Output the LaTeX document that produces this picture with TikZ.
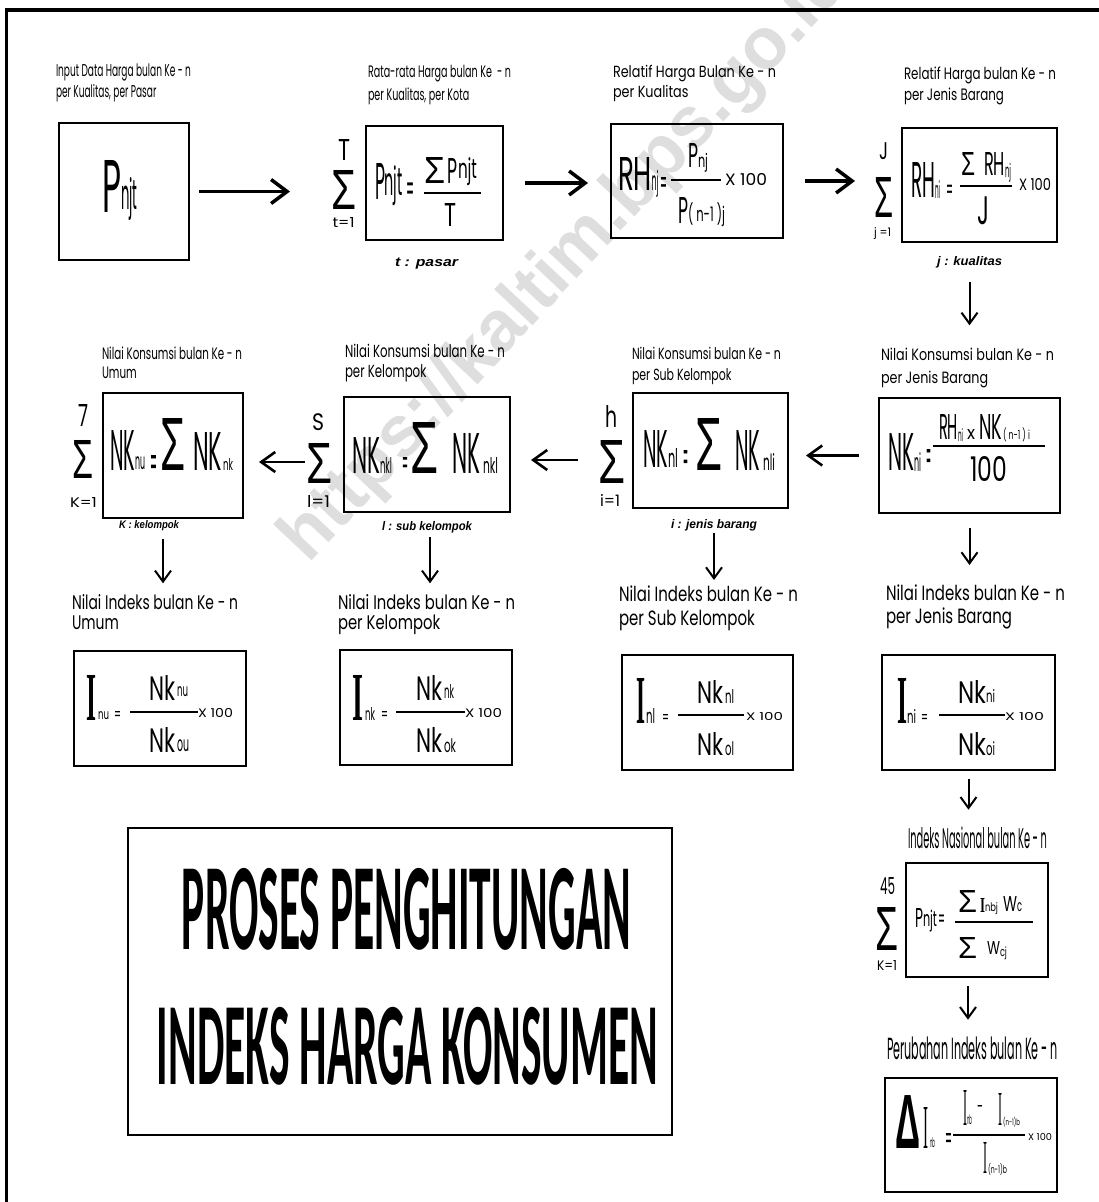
\documentclass[tikz,border=0pt]{standalone}
\usepackage{fontspec}
\usepackage{graphicx}
\setmainfont{Poppins}
\newfontfamily\sigf{Liberation Sans}
\newfontfamily\serf{Liberation Serif}
\newfontfamily\ttlf{Carlito}
\usetikzlibrary{arrows.meta}
\newsavebox\lbA
\newcommand\labfont{\fontsize{10}{12}\selectfont}
\newcommand\SG{{\sigf Σ}}
\newcommand\putg[5]{\node[fp] (#1) at (#2) {\resizebox*{#3pt}{#4pt}{#5}};}
\newcommand\puteq[4]{\node[fp,anchor=north] (#1) at (#2) {\resizebox{#3pt}{#4pt}{=}};}
\newcommand\firstline[3]{%
  \sbox\lbA{\labfont #3}%
  \pgfmathsetmacro\lsx{#1/\the\wd\lbA}%
  \pgfmathsetmacro\lsy{#2/\the\ht\lbA}%
  \xdef\glsx{\lsx}\xdef\glsy{\lsy}%
  \scalebox{\lsx}[\lsy]{\usebox\lbA}}
\newcommand\twolab[8]{%
  \node[fp,anchor=base west] (#1a) at (#2,#3) {\firstline{#5}{#6}{#7}};%
  \node[fp,anchor=base west] (#1b) at (#2,#4) {\scalebox{\glsx}[\glsy]{\labfont #8}};%
}
\newcommand\onelab[6]{\node[fp,anchor=base west] (#1) at (#2,#3) {\resizebox{#4pt}{#5pt}{\labfont #6}};}
\newcommand\tagl[6]{\node[fp,anchor=base west] (#1) at (#2,#3) {\resizebox{#4pt}{#5pt}{\sigf\bfseries\itshape #6}};}
\begin{document}
\begin{tikzpicture}[x=1pt,y=-1pt,
  fp/.style={inner sep=0pt,outer sep=0pt},
  bx/.style={draw,line width=2pt,inner sep=0pt},
  harr/.style={line width=3.5pt,-{Straight Barb[length=16pt,width=24pt]}},
  larr/.style={line width=2.6pt,-{Straight Barb[length=14pt,width=20pt]}},
  darr/.style={line width=2pt,-{Straight Barb[length=11pt,width=16pt]}},
  fbar/.style={line width=2pt}]
\useasboundingbox (0,0) rectangle (1099,1202);
\fill[white] (0,0) rectangle (1099,1202);
% watermark
\node[fp,rotate=46.8,text=black!13] (wm) at (567,262) {\resizebox{796pt}{!}{\sigf\bfseries https://kaltim.bps.go.id}};
% frame
\draw[line width=4pt] (5,10) -- (1099,10);
\draw[line width=3pt] (6.5,8) -- (6.5,1202);
% boxes
\node[bx,minimum width=130pt,minimum height=137pt] (B1) at (124,191.5) {};
\node[bx,minimum width=137pt,minimum height=114pt] (B2) at (434.5,183) {};
\node[bx,minimum width=172pt,minimum height=114pt] (B3) at (697,181) {};
\node[bx,minimum width=155pt,minimum height=114pt] (B4) at (979.5,185) {};
\node[bx,minimum width=181pt,minimum height=115pt] (C4) at (969.5,455.5) {};
\node[bx,minimum width=155pt,minimum height=115pt] (C3) at (710.5,450.5) {};
\node[bx,minimum width=166pt,minimum height=115pt] (C2) at (427,454.5) {};
\node[bx,minimum width=140pt,minimum height=125pt] (C1) at (173,455.5) {};
\node[bx,minimum width=172pt,minimum height=115pt] (D1) at (160,708.5) {};
\node[bx,minimum width=172pt,minimum height=115pt] (D2) at (426,707.5) {};
\node[bx,minimum width=171pt,minimum height=115pt] (D3) at (707.5,712.5) {};
\node[bx,minimum width=173pt,minimum height=115pt] (D4) at (968.5,712.5) {};
\node[bx,minimum width=142pt,minimum height=114pt] (E1) at (977,920) {};
\node[bx,minimum width=172pt,minimum height=114pt] (E2) at (971,1135) {};
\node[bx,minimum width=544pt,minimum height=307pt] (TT) at (400,981.5) {};
% title
\node[fp] (TT1) at (406.5,909) {\resizebox*{449pt}{82pt}{\ttlf\bfseries PROSES PENGHITUNGAN}};
\node[fp] (TT2) at (407.5,1046) {\resizebox*{501pt}{78pt}{\ttlf\bfseries INDEKS HARGA KONSUMEN}};
% B1
\putg{b1P}{111.5,186}{19}{52}{P}
\putg{b1s}{129.25,198.5}{16.5}{43}{njt}
% B2
\putg{b2P}{380,181}{10}{36}{P}
\putg{b2s}{393.5,186}{18}{40}{njt}
\puteq{b2e}{410,183}{8}{19.6}
\putg{b2S}{434.5,170}{21}{26}{\SG}
\putg{b2P2}{452.5,170.5}{10}{25}{P}
\putg{b2s2}{467.5,172}{19}{28}{njt}
\draw[fbar] (424,192.5) -- (481,192.5);
\putg{b2T}{450.5,214.5}{12}{23}{T}
% sum T
\putg{sTt}{344,150}{12}{21}{T}
\putg{sTS}{343.5,189.5}{25}{39}{\SG}
\putg{sTb}{343.5,222.5}{22}{10}{t=1}
% B3
\putg{b3R}{635,173.5}{34}{33}{RH}
\putg{b3s}{655,183.5}{7}{27}{nj}
\puteq{b3e}{663.5,177}{7}{17}
\draw[fbar] (671,180) -- (721,180);
\putg{b3P}{693,155}{10}{24}{P}
\putg{b3ps}{703,162.5}{10}{19}{nj}
\putg{b3Q}{683,210}{10}{26}{P}
\putg{b3qs}{706.5,215}{37}{24}{( n-1 )j}
\putg{b3x}{746,179}{42}{12}{X 100}
% sum J
\putg{sJt}{883.5,151.5}{9}{17}{J}
\putg{sJS}{883.5,197}{19}{40}{\SG}
\putg{sJb}{882.5,234}{17}{12}{j =1}
% B4
\putg{b4R}{923,179.5}{24}{35}{RH}
\putg{b4s}{937.5,189}{5}{18}{ni}
\puteq{b4e}{949.5,185}{7}{14.3}
\putg{b4S}{968,163.5}{14}{23}{\SG}
\putg{b4R2}{994.5,163.5}{21}{23}{RH}
\putg{b4s2}{1008,172.5}{6}{19}{nj}
\draw[fbar] (960,186) -- (1012,186);
\putg{b4J}{983,211}{12}{28}{J}
\putg{b4x}{1035,184}{32}{12}{X 100}
% C4
\putg{c4N}{901,452}{26}{37}{NK}
\putg{c4s}{917.5,461.5}{7}{19}{ni}
\puteq{c4e}{928.5,449}{5}{23}
\draw[fbar] (933,446) -- (1045,446);
\putg{c4R}{948.5,427}{19}{25}{RH}
\putg{c4rs}{960.5,434.5}{5}{13}{ni}
\putg{c4x}{971,434}{8}{10}{x}
\putg{c4N2}{990.5,427}{23}{25}{NK}
\putg{c4ns}{1016.5,434.5}{27}{14}{( n-1 ) i}
\putg{c4h}{988.5,469}{37}{25}{100}
% C3
\putg{c3N}{655.5,448.5}{25}{37}{NK}
\putg{c3s}{673,457.5}{10}{19}{nl}
\puteq{c3e}{685.5,450}{5}{23}
\putg{c3S}{708.5,444}{27}{52}{\SG}
\putg{c3N2}{747.5,450}{25}{40}{NK}
\putg{c3s2}{769,461.5}{12}{17}{nli}
% sum h
\putg{shh}{611,416}{12}{22}{h}
\putg{shS}{611.5,461.5}{27}{43}{\SG}
\putg{shb}{610,500}{20}{12}{i=1}
% C2
\putg{c2N}{366,455}{28}{36}{NK}
\putg{c2s}{386,465}{12}{16}{nkl}
\puteq{c2e}{405,457}{6}{18}
\putg{c2S}{424,447.5}{28}{51}{\SG}
\putg{c2N2}{466,453}{28}{40}{NK}
\putg{c2s2}{490.5,465}{15}{16}{nkl}
% sum S
\putg{sSt}{318,422}{12}{17}{S}
\putg{sSS}{319,463}{26}{40}{\SG}
\putg{sSb}{318.5,501}{23}{12}{l=1}
% C1
\putg{c1N}{122.5,450}{25}{40}{NK}
\putg{c1s}{140,463.5}{10}{13}{nu}
\puteq{c1e}{153.5,455}{7}{23}
\putg{c1S}{172.5,444}{25}{52}{\SG}
\putg{c1N2}{207.5,451}{29}{38}{NK}
\putg{c1s2}{228,464}{10}{12}{nk}
% sum 7
\putg{s7t}{83,415}{10}{22}{7}
\putg{s7S}{82.5,459}{21}{38}{\SG}
\putg{s7b}{83.5,502}{27}{10}{K=1}
% D1
\putg{d1I}{91,697.5}{10}{45}{\serf\bfseries I}
\putg{d1s}{103.5,716}{11}{8}{nu}
\puteq{d1e}{117.5,711}{7}{9}
\draw[fbar] (130,712) -- (198,712);
\putg{d1x}{215.5,712.5}{35}{9}{X 100}
\putg{d1N}{162,687.5}{26}{25}{Nk}
\putg{d1ns}{182.5,692}{11}{10}{nu}
\putg{d1D}{162,739.5}{26}{25}{Nk}
\putg{d1ds}{183,746}{12}{12}{ou}
% D2
\putg{d2I}{357.5,697.5}{11}{45}{\serf\bfseries I}
\putg{d2s}{370,713.5}{10}{13}{nk}
\puteq{d2e}{384.5,711}{7}{9}
\draw[fbar] (396,712) -- (465,712);
\putg{d2x}{483.5,712.5}{37}{9}{X 100}
\putg{d2N}{429,687.5}{26}{25}{Nk}
\putg{d2ns}{449,691}{10}{14}{nk}
\putg{d2D}{429,739.5}{26}{25}{Nk}
\putg{d2ds}{450,746}{12}{14}{ok}
% D3
\putg{d3I}{640.5,700.5}{9}{45}{\serf\bfseries I}
\putg{d3s}{650.5,715.5}{9}{15}{nl}
\puteq{d3e}{665.5,714}{7}{9}
\draw[fbar] (678,715) -- (744,715);
\putg{d3x}{764.5,716}{37}{8}{X 100}
\putg{d3N}{710,691.5}{26}{23}{Nk}
\putg{d3ns}{729.5,696}{9}{14}{nl}
\putg{d3D}{710,743.5}{26}{23}{Nk}
\putg{d3ds}{729.5,749}{9}{14}{ol}
% D4
\putg{d4I}{902,700.5}{10}{45}{\serf\bfseries I}
\putg{d4s}{911.5,716}{9}{14}{ni}
\puteq{d4e}{924.5,714}{7}{9}
\draw[fbar] (939,715) -- (1005,715);
\putg{d4x}{1024.5,716}{39}{8}{X 100}
\putg{d4N}{972,691.5}{28}{23}{Nk}
\putg{d4ns}{990.5,696}{9}{13}{ni}
\putg{d4D}{972,743.5}{28}{23}{Nk}
\putg{d4ds}{990.5,749}{9}{14}{oi}
% E1
\putg{e1P}{919,917.5}{8}{19}{P}
\putg{e1s}{930,921}{14}{22}{njt}
\puteq{e1e}{941.5,915}{7}{12.5}
\draw[fbar] (955,922) -- (1033,922);
\putg{e1S}{967.5,901}{19}{22}{\SG}
\putg{e1I}{982.5,905}{5}{14}{\serf\bfseries I}
\putg{e1is}{991.5,909}{13}{12}{nbj}
\putg{e1W}{1010,904.5}{14}{15}{W}
\putg{e1ws}{1019.5,907.5}{5}{9}{c}
\putg{e1S2}{967.5,947.5}{19}{21}{\SG}
\putg{e1W2}{993.5,948.5}{13}{13}{W}
\putg{e1ws2}{1003.5,953.5}{7}{13}{cj}
% sum 45
\putg{s45t}{887.5,886.5}{15}{17}{45}
\putg{s45S}{886.5,928.5}{23}{43}{\SG}
\putg{s45b}{887,965}{20}{10}{K=1}
% E2
\putg{e2D}{907.5,1121.5}{25}{53}{\sigf\bfseries Δ}
\putg{e2I}{925.5,1127.5}{5}{41}{\serf I}
\putg{e2s}{932.5,1143}{5}{10}{nb}
\puteq{e2e}{948.5,1133}{7}{16}
\draw[fbar] (953,1135) -- (1025,1135);
\putg{e2x}{1040,1136.5}{24}{7}{X 100}
\putg{e2I1}{965,1107.5}{4}{35}{\serf I}
\putg{e2s1}{969.5,1120}{5}{10}{nb}
\node[fp,anchor=north] (e2m) at (980,1105) {\resizebox{6pt}{8pt}{-}};
\putg{e2I2}{1000,1109}{4}{32}{\serf I}
\putg{e2s2}{1011.5,1122}{17}{10}{(n-1)b}
\putg{e2I3}{985,1157.5}{4}{31}{\serf I}
\putg{e2s3}{997.5,1169}{19}{12}{(n-1)b}
% labels
\twolab{LInp}{56}{76}{97.3}{135}{12.7}{Input Data Harga bulan Ke - n}{per Kualitas, per Pasar}
\twolab{LRat}{368}{77.3}{100}{143}{12.3}{Rata-rata Harga bulan Ke \ - n}{per Kualitas, per Kota}
\twolab{LRlA}{613}{77.3}{97.3}{163}{12.3}{Relatif Harga Bulan Ke - n}{per Kualitas}
\twolab{LRlB}{904}{79.3}{100}{152}{12.6}{Relatif Harga bulan Ke - n}{per Jenis Barang}
\twolab{LNKu}{102}{359.3}{378.3}{140}{12.6}{Nilai Konsumsi bulan Ke - n}{Umum}
\twolab{LNKk}{345}{357.3}{377.3}{160}{13.3}{Nilai Konsumsi bulan Ke - n}{per Kelompok}
\twolab{LNKl}{632}{359}{380}{149}{12.3}{Nilai Konsumsi bulan Ke - n}{per Sub Kelompok}
\twolab{LNKi}{881}{360.7}{383.3}{173}{12.4}{Nilai Konsumsi bulan Ke - n}{per Jenis Barang}
\twolab{LIu}{72}{609.3}{629.3}{166}{15}{Nilai Indeks bulan Ke - n}{Umum}
\twolab{LIk}{338}{609.3}{629.3}{177}{15}{Nilai Indeks bulan Ke - n}{per Kelompok}
\twolab{LIl}{619}{601.7}{625}{179}{15.7}{Nilai Indeks bulan Ke - n}{per Sub Kelompok}
\twolab{LIi}{886}{600.7}{623.3}{179}{15.7}{Nilai Indeks bulan Ke - n}{per Jenis Barang}
\onelab{LNas}{908}{848.3}{139}{21.6}{Indeks Nasional bulan Ke - n}
\onelab{LPer}{887}{1059.3}{171}{22.6}{Perubahan Indeks bulan Ke - n}
% tags
\tagl{tP}{395}{266.7}{63}{8.5}{t : pasar}
\tagl{tJ}{937}{265}{65}{9}{j : kualitas}
\tagl{tK}{119}{528}{60}{8}{K : kelompok}
\tagl{tL}{382}{530.7}{90}{9}{l : sub kelompok}
\tagl{tI}{671}{528.3}{86}{9}{i : jenis barang}
% arrows
\draw[harr,shorten <=9pt,shorten >=41pt] (B1.east) -- (B1.east -| sTS.west);
\draw[harr,shorten <=21pt,shorten >=22pt] (B2.east) -- (B2.east -| B3.west);
\draw[harr,shorten <=21pt,shorten >=19pt] (B3.east) -- (B3.east -| sJS.west);
\draw[darr,shorten <=14pt,shorten >=23pt] (tJ.south) -- (tJ.south |- LNKia.north);
\draw[larr,shorten <=19pt,shorten >=17pt] (C4.west) -- (C4.west -| C3.east);
\draw[larr,shorten <=20pt,shorten >=20pt] ([yshift=1.5pt]shS.west) -- ([yshift=1.5pt]shS.west -| C2.east);
\draw[larr,shorten <=1pt,shorten >=15pt] ([yshift=1pt]sSS.west) -- ([yshift=1pt]sSS.west -| C1.east);
\draw[darr,shorten <=9pt,shorten >=11pt] ([xshift=14pt]tK.south) -- ([xshift=14pt]tK.south |- LIua.north);
\draw[darr,shorten <=4pt,shorten >=11pt] ([xshift=3pt]tL.south) -- ([xshift=3pt]tL.south |- LIka.north);
\draw[darr,shorten <=2pt,shorten >=6pt] (tI.south) -- (tI.south |- LIla.north);
\draw[darr,shorten <=14pt,shorten >=20pt] (C4.south) -- (C4.south |- LIia.north);
\draw[darr,shorten <=8pt,shorten >=17pt] (D4.south) -- (D4.south |- LNas.north);
\draw[darr,shorten <=8pt,shorten >=17pt] ([xshift=-9pt]E1.south) -- ([xshift=-9pt]E1.south |- LPer.north);
\end{tikzpicture}
\end{document}
